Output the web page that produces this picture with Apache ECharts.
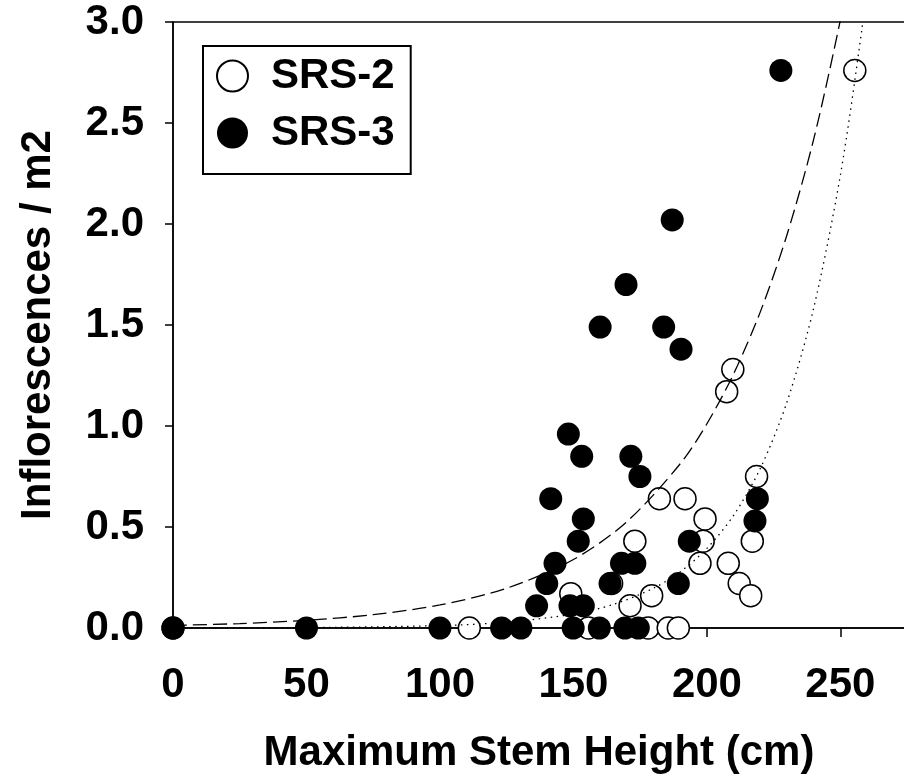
<!DOCTYPE html>
<html>
<head>
<meta charset="utf-8">
<title>Inflorescences vs Maximum Stem Height</title>
<script src="https://cdn.jsdelivr.net/npm/echarts/dist/echarts.min.js"></script>
<style>
  html, body { margin: 0; padding: 0; background: #fff; }
  #chart { width: 904px; height: 777px; }
</style>
</head>
<body>
<div id="chart"></div>
<script>
// [max stem height (cm), inflorescences / m2]
const srs2 = [
  [0, 0], [111, 0], [149, 0.17], [155.6, 0], [164.3, 0.22], [171.2, 0.11],
  [173, 0.43], [178, 0], [179.3, 0.16], [182.2, 0.64], [185.5, 0], [189.3, 0],
  [191.8, 0.64], [197.4, 0.32], [198.6, 0.43], [199.3, 0.54], [207.4, 1.17],
  [209.7, 1.28], [208, 0.32], [212.1, 0.22], [216.4, 0.16], [217, 0.43],
  [218.6, 0.75], [255.4, 2.76]
]
const srs3 = [
  [0, 0], [50, 0], [100, 0], [123.1, 0], [130.3, 0], [136.2, 0.11], [140, 0.22],
  [141.5, 0.64], [143.1, 0.32], [148.1, 0.96], [148.7, 0.11], [149.9, 0],
  [151.8, 0.43], [153.1, 0.85], [153.7, 0.54], [153.7, 0.11], [159.7, 0],
  [160, 1.49], [163.7, 0.22], [168, 0.32], [169.3, 0], [169.7, 1.7],
  [171.5, 0.85], [173, 0.32], [174.3, 0], [174.9, 0.75], [183.8, 1.49],
  [187, 2.02], [189.3, 0.22], [190.3, 1.38], [193.4, 0.43], [218, 0.53],
  [218.9, 0.64], [227.7, 2.76]
]
// fitted curves
const fitDashed = [
  [0, 0.013], [25, 0.022], [50, 0.038], [75, 0.066], [100, 0.114], [125, 0.197],
  [150, 0.339], [170, 0.526], [190, 0.813], [200, 1.011], [210, 1.258],
  [220, 1.565], [230, 1.947], [240, 2.42], [250, 3.01], [255, 3.36]
]
const fitDotted = [
  [0, 0.0004], [50, 0.002], [100, 0.012], [125, 0.029], [150, 0.069],
  [165, 0.117], [180, 0.197], [190, 0.278], [200, 0.394], [210, 0.558],
  [220, 0.79], [230, 1.119], [240, 1.584], [250, 2.242], [258, 2.96], [262, 3.4]
]
const seriesNames = ['SRS-2', 'SRS-3']

const font = 'Liberation Sans, Arial, sans-serif'
const chart = echarts.init(document.getElementById('chart'))

const option = {
  animation: false,
  grid: {
    left: 173,
    top: 22,
    width: 732,
    height: 606,
    outerBoundsMode: 'none',
    containLabel: false,
    show: true,
    borderColor: '#000',
    borderWidth: 1.5
  },
  legend: {
    data: seriesNames,
    orient: 'vertical',
    left: 203,
    top: 46,
    padding: [9, 16, 20, 13],
    itemGap: 15,
    itemWidth: 31,
    itemHeight: 31,
    borderColor: '#000',
    borderWidth: 2,
    textStyle: {
      color: '#000',
      fontFamily: font,
      fontWeight: 'bold',
      fontSize: 42,
      lineHeight: 42,
      padding: [0, 0, 0, 18]
    }
  },
  xAxis: {
    type: 'value',
    min: 0,
    max: 274.2,
    interval: 50,
    name: 'Maximum Stem Height (cm)',
    nameLocation: 'middle',
    nameGap: 104,
    nameTextStyle: { color: '#000', fontFamily: font, fontWeight: 'bold', fontSize: 42 },
    axisLine: { onZero: false, lineStyle: { color: '#000', width: 1.5 } },
    axisTick: { inside: false, length: 9, lineStyle: { color: '#000', width: 1.5 } },
    axisLabel: {
      margin: 36,
      showMaxLabel: false,
      color: '#000',
      fontFamily: font,
      fontWeight: 'bold',
      fontSize: 42
    },
    splitLine: { show: false }
  },
  yAxis: {
    type: 'value',
    min: 0,
    max: 3,
    interval: 0.5,
    name: 'Inflorescences / m2',
    nameLocation: 'middle',
    nameGap: 114,
    nameTextStyle: { color: '#000', fontFamily: font, fontWeight: 'bold', fontSize: 42 },
    axisLine: { onZero: false, lineStyle: { color: '#000', width: 1.5 } },
    axisTick: { inside: false, length: 8, lineStyle: { color: '#000', width: 1.5 } },
    axisLabel: {
      margin: 29,
      color: '#000',
      fontFamily: font,
      fontWeight: 'bold',
      fontSize: 42,
      formatter: (v) => v.toFixed(1)
    },
    splitLine: { show: false }
  },
  series: [
    {
      name: 'SRS-2',
      type: 'scatter',
      symbol: 'circle',
      symbolSize: 22,
      itemStyle: { color: '#fff', borderColor: '#000', borderWidth: 1.5, opacity: 1 },
      data: srs2,
      z: 2
    },
    {
      name: 'fit SRS-3',
      type: 'line',
      symbol: 'none',
      smooth: 0.3,
      lineStyle: { color: '#000', width: 1.3, type: [14, 6] },
      data: fitDashed,
      z: 3
    },
    {
      name: 'fit SRS-2',
      type: 'line',
      symbol: 'none',
      smooth: 0.3,
      lineStyle: { color: '#000', width: 1.3, type: [1.5, 4.5] },
      data: fitDotted,
      z: 3
    },
    {
      name: 'SRS-3',
      type: 'scatter',
      symbol: 'circle',
      symbolSize: 23,
      itemStyle: { color: '#000', opacity: 1 },
      data: srs3,
      z: 4
    }
  ]
}

chart.setOption(option)
</script>
</body>
</html>
